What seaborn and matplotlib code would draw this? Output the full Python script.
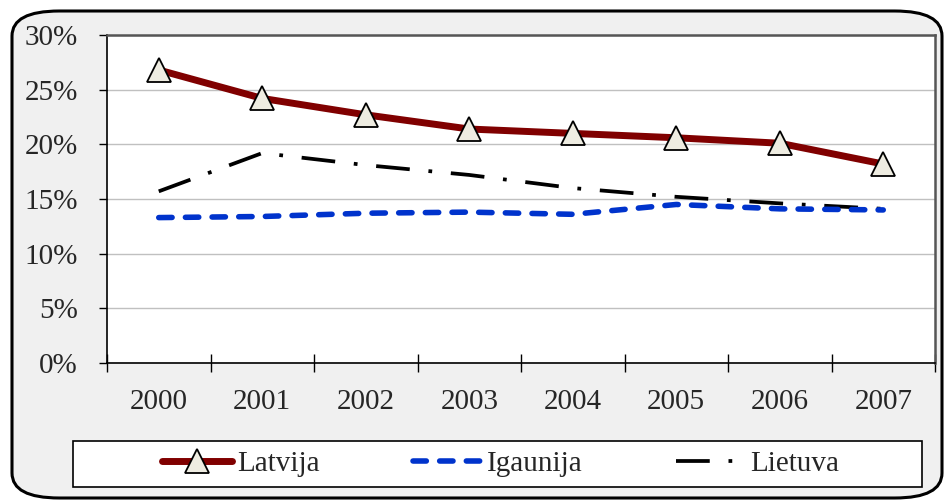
import numpy as np
import pandas as pd
import matplotlib
matplotlib.use("Agg")
import matplotlib.pyplot as plt
import seaborn as sns
from matplotlib.patches import FancyBboxPatch, Rectangle
from matplotlib.ticker import FixedLocator, PercentFormatter

years = ["2000", "2001", "2002", "2003", "2004", "2005", "2006", "2007"]
latvija = [26.8, 24.2, 22.7, 21.4, 21.0, 20.6, 20.1, 18.2]
igaunija = [13.3, 13.4, 13.7, 13.8, 13.6, 14.5, 14.1, 14.0]
lietuva = [15.7, 19.2, 18.1, 17.2, 16.0, 15.2, 14.6, 14.1]

sns.set_style("white", {"xtick.bottom": True, "ytick.left": True})
plt.rcParams["font.family"] = ["Liberation Serif", "DejaVu Serif"]
FS = 21

fig = plt.figure(figsize=(9.46, 5.0), dpi=100)
fig.patch.set_facecolor("white")

# rounded outer frame like the Excel chart area
frame = FancyBboxPatch((12 / 946, 2 / 500), 930 / 946, 487 / 500,
                       boxstyle="round,pad=0,rounding_size=0.05",
                       transform=fig.transFigure, facecolor="#f0f0f0",
                       edgecolor="black", linewidth=2.2, zorder=-10)
fig.patches.append(frame)

# legend box
fig.patches.append(Rectangle((73 / 946, 13 / 500), 849 / 946, 46 / 500,
                             transform=fig.transFigure, facecolor="white",
                             edgecolor="black", linewidth=1.2, zorder=-5))

ax = fig.add_axes([107 / 946, 1 - 363 / 500, 828 / 946, 328 / 500])
ax.set_zorder(1)
ax.set_facecolor("white")

x = np.arange(len(years))

sns.lineplot(x=x, y=lietuva, ax=ax, color="black", linewidth=2.7,
             label="Lietuva", zorder=3)
ax.lines[-1].set_dashes((9, 5, 1, 5))
sns.lineplot(x=x, y=igaunija, ax=ax, color="#0033cc", linewidth=4.0,
             label="Igaunija", zorder=4)
ax.lines[-1].set_dashes((2.4, 2.4))
ax.lines[-1].set_dash_capstyle("round")
sns.lineplot(x=x, y=latvija, ax=ax, color="#800000", linewidth=5.0,
             marker="^", markersize=17, markerfacecolor="#eeece1",
             markeredgecolor="black", markeredgewidth=1.3,
             label="Latvija", zorder=5)

ax.set_xlim(-0.5, len(years) - 0.5)
ax.set_ylim(0, 30)
ax.yaxis.set_major_locator(FixedLocator(np.arange(0, 31, 5)))
ax.yaxis.set_major_formatter(PercentFormatter(decimals=0))
ax.set_xticks(x)
ax.set_xticklabels(years)
ax.xaxis.set_minor_locator(FixedLocator(np.arange(-0.5, len(years), 1.0)))

ax.grid(axis="y", color="#c0c0c0", linewidth=1.0)
ax.set_axisbelow(True)

ax.tick_params(axis="x", which="major", length=0, pad=19, labelsize=FS,
               bottom=True)
ax.tick_params(axis="x", which="minor", length=13, direction="inout",
               width=1, color="black", bottom=True)
ax.tick_params(axis="y", which="major", length=6, direction="out",
               width=1, color="black", labelsize=FS, pad=15, left=True)

for side in ["top", "right"]:
    ax.spines[side].set_color("#555555")
    ax.spines[side].set_linewidth(1.8)
for side in ["left", "bottom"]:
    ax.spines[side].set_color("black")
    ax.spines[side].set_linewidth(1.2)

ax.set_xlabel("")
ax.set_ylabel("")

handles, labels = ax.get_legend_handles_labels()
order = [labels.index(n) for n in ["Latvija", "Igaunija", "Lietuva"]]
ax.get_legend().remove()
leg = fig.legend([handles[i] for i in order], [labels[i] for i in order],
                 loc="center", ncol=3, bbox_to_anchor=(501 / 946, 36 / 500),
                 fontsize=FS, frameon=False, handlelength=2.4,
                 handletextpad=0.15, columnspacing=3.2)

fig.savefig("out.png", dpi=100)
